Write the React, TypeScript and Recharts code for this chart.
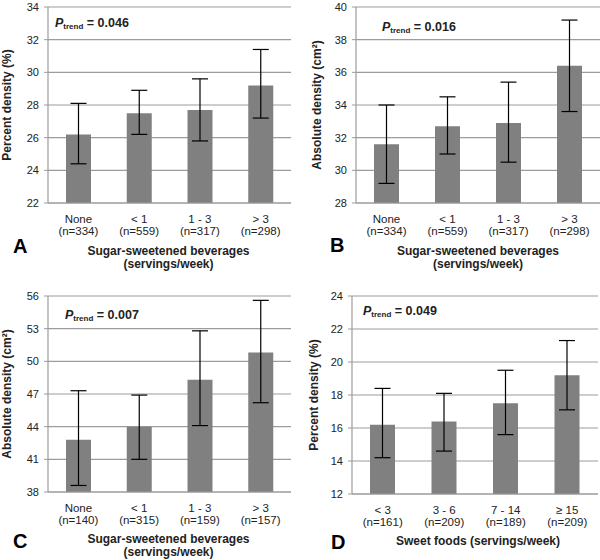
import { BarChart, Bar, XAxis, YAxis, CartesianGrid, ErrorBar } from 'recharts';

const ssbCategories = ['None', '< 1', '1 - 3', '> 3'];
const sweetCategories = ['< 3', '3 - 6', '7 - 14', '≥ 15'];

const countsA = ['n=334', 'n=559', 'n=317', 'n=298'];
const countsC = ['n=140', 'n=315', 'n=159', 'n=157'];
const countsD = ['n=161', 'n=209', 'n=189', 'n=209'];

const meanA = [26.2, 27.5, 27.7, 29.2];
const lowA = [24.4, 26.2, 25.8, 27.2];
const highA = [28.1, 28.9, 29.6, 31.4];

const meanB = [31.6, 32.7, 32.9, 36.4];
const lowB = [29.2, 31.0, 30.5, 33.6];
const highB = [34.0, 34.5, 35.4, 39.2];

const meanC = [42.8, 44.0, 48.3, 50.8];
const lowC = [38.6, 41.0, 44.1, 46.2];
const highC = [47.3, 46.9, 52.8, 55.6];

const meanD = [16.2, 16.4, 17.5, 19.2];
const lowD = [14.2, 14.6, 15.6, 17.1];
const highD = [18.4, 18.1, 19.5, 21.3];

const ticksA = [22, 24, 26, 28, 30, 32, 34];
const ticksB = [28, 30, 32, 34, 36, 38, 40];
const ticksC = [38, 41, 44, 47, 50, 53, 56];
const ticksD = [12, 14, 16, 18, 20, 22, 24];

const FONT = '"Liberation Sans", Arial, sans-serif';
const GRID = '#9c9c9c';
const BAR = '#808080';
const TEXT = '#222';

const makeData = (cats: string[], counts: string[], mean: number[], low: number[], high: number[]) =>
  cats.map((c, i) => ({
    cat: c,
    n: counts[i],
    mean: mean[i],
    err: [+(mean[i] - low[i]).toFixed(2), +(high[i] - mean[i]).toFixed(2)],
  }));

const CatTick = (props: any) => {
  const { x, y, payload, counts } = props;
  return (
    <g>
      <text x={x} y={y + 19.5} textAnchor="middle" fontSize={11.5} fill={TEXT} fontFamily={FONT}>
        {payload.value}
      </text>
      <text x={x} y={y + 32} textAnchor="middle" fontSize={11.5} fill={TEXT} fontFamily={FONT}>
        ({counts[payload.index]})
      </text>
    </g>
  );
};

type PanelProps = {
  left: number;
  top: number;
  data: any[];
  counts: string[];
  ticks: number[];
  margin: { top: number; right: number; left: number; bottom: number };
  yWidth: number;
  xHeight: number;
  yLabel: string;
  yLabelOffset: number;
};

const Panel = ({ left, top, data, counts, ticks, margin, yWidth, xHeight, yLabel, yLabelOffset }: PanelProps) => (
  <div style={{ position: 'absolute', left, top }}>
    <BarChart width={300} height={280} data={data} margin={margin}>
      <CartesianGrid vertical={false} stroke={GRID} strokeWidth={1.2} />
      <XAxis
        dataKey="cat"
        height={xHeight}
        tickLine={false}
        tickSize={0}
        tickMargin={0}
        axisLine={{ stroke: GRID, strokeWidth: 1.2 }}
        interval={0}
        tick={<CatTick counts={counts} />}
      />
      <YAxis
        width={yWidth}
        domain={[ticks[0], ticks[ticks.length - 1]]}
        ticks={ticks}
        allowDataOverflow
        tickSize={4}
        tickMargin={5}
        tickLine={{ stroke: GRID }}
        axisLine={{ stroke: GRID, strokeWidth: 1.2 }}
        tick={{ fontSize: 11, fill: TEXT, fontFamily: FONT }}
        label={{
          value: yLabel,
          angle: -90,
          position: 'insideLeft',
          offset: yLabelOffset,
          style: { textAnchor: 'middle', fontSize: 12, fontWeight: 'bold', fill: TEXT, fontFamily: FONT },
        }}
      />
      <Bar dataKey="mean" fill={BAR} barSize={25} isAnimationActive={false}>
        <ErrorBar dataKey="err" width={8} stroke="#000" strokeWidth={1.2} direction="y" />
      </Bar>
    </BarChart>
  </div>
);

const PTrend = ({ x, y, value }: { x: number; y: number; value: string }) => (
  <text x={x} y={y} fontFamily={FONT} fontWeight="bold" fill={TEXT} fontSize={12.5}>
    <tspan fontStyle="italic">P</tspan>
    <tspan fontSize={8} dy={2}>trend</tspan>
    <tspan dy={-2}> = {value}</tspan>
  </text>
);

const Letter = ({ x, y, value }: { x: number; y: number; value: string }) => (
  <text x={x} y={y} fontFamily={FONT} fontWeight="bold" fill="#000" fontSize={20}>
    {value}
  </text>
);

const Title = ({ x, y, lines }: { x: number; y: number; lines: string[] }) => (
  <g>
    {lines.map((l, i) => (
      <text
        key={l}
        x={x}
        y={y + i * 12.5}
        fontFamily={FONT}
        fontWeight="bold"
        fill={TEXT}
        fontSize={12}
        textAnchor="middle"
      >
        {l}
      </text>
    ))}
  </g>
);

export default function App() {
  const dataA = makeData(ssbCategories, countsA, meanA, lowA, highA);
  const dataB = makeData(ssbCategories, countsA, meanB, lowB, highB);
  const dataC = makeData(ssbCategories, countsC, meanC, lowC, highC);
  const dataD = makeData(sweetCategories, countsD, meanD, lowD, highD);

  return (
    <div style={{ position: 'absolute', left: 0, top: 0, width: 600, height: 560, background: '#fff' }}>
      <Panel
        left={0}
        top={0}
        data={dataA}
        counts={countsA}
        ticks={ticksA}
        margin={{ top: 7, right: 9, left: 0, bottom: 0 }}
        yWidth={48}
        xHeight={77}
        yLabel="Percent density (%)"
        yLabelOffset={7}
      />
      <Panel
        left={300}
        top={0}
        data={dataB}
        counts={countsA}
        ticks={ticksB}
        margin={{ top: 7, right: 0, left: 0, bottom: 0 }}
        yWidth={56}
        xHeight={77}
        yLabel="Absolute density (cm²)"
        yLabelOffset={17}
      />
      <Panel
        left={0}
        top={280}
        data={dataC}
        counts={countsC}
        ticks={ticksC}
        margin={{ top: 16, right: 9, left: 0, bottom: 0 }}
        yWidth={48}
        xHeight={68}
        yLabel="Absolute density (cm²)"
        yLabelOffset={7}
      />
      <Panel
        left={300}
        top={280}
        data={dataD}
        counts={countsD}
        ticks={ticksD}
        margin={{ top: 16, right: 2, left: 0, bottom: 0 }}
        yWidth={52}
        xHeight={66}
        yLabel="Percent density (%)"
        yLabelOffset={14}
      />
      <svg width={600} height={560} style={{ position: 'absolute', left: 0, top: 0, pointerEvents: 'none' }}>
        <PTrend x={55} y={26.5} value="0.046" />
        <PTrend x={382} y={30.5} value="0.016" />
        <PTrend x={65} y={319} value="0.007" />
        <PTrend x={363} y={315} value="0.049" />
        <Letter x={13} y={253} value="A" />
        <Letter x={330} y={252} value="B" />
        <Letter x={13} y={548} value="C" />
        <Letter x={331} y={549} value="D" />
        <Title x={168.5} y={255} lines={['Sugar-sweetened beverages', '(servings/week)']} />
        <Title x={478} y={255} lines={['Sugar-sweetened beverages', '(servings/week)']} />
        <Title x={168.5} y={543} lines={['Sugar-sweetened beverages', '(servings/week)']} />
        <Title x={478} y={545} lines={['Sweet foods (servings/week)']} />
      </svg>
    </div>
  );
}
